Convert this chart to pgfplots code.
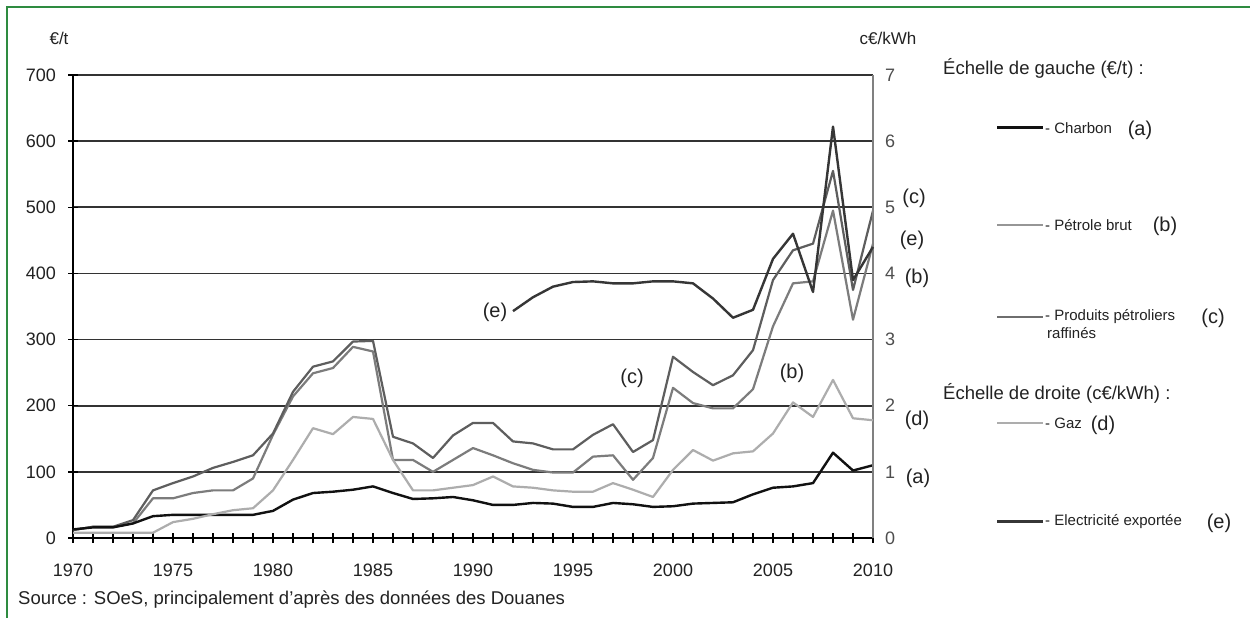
\documentclass[border=0pt]{standalone}
\usepackage{fontspec}
\setmainfont{Liberation Sans}
\usepackage{pgfplots}
\pgfplotsset{compat=1.18}
\definecolor{frame}{HTML}{2E8B40}
\definecolor{cA}{HTML}{111111}
\definecolor{cB}{HTML}{7C7C7C}
\definecolor{cC}{HTML}{5E5E5E}
\definecolor{cD}{HTML}{ADADAD}
\definecolor{cE}{HTML}{363636}
\definecolor{gridc}{HTML}{333333}
\definecolor{txt}{HTML}{222222}
\newcommand{\tfont}{\fontsize{18}{20}\selectfont}
\newcommand{\afont}{\fontsize{20}{24}\selectfont}
\newcommand{\lfont}{\fontsize{15}{16}\selectfont}
\begin{document}
\begin{tikzpicture}[x=1pt,y=1pt]
\useasboundingbox (0,0) rectangle (1250,618);
\fill[white] (0,0) rectangle (1250,618);
\draw[frame, line width=2pt] (7,0) -- (7,611) -- (1250,611);

\begin{axis}[
  at={(73pt,80pt)}, anchor=south west, scale only axis,
  width=800pt, height=463pt,
  xmin=1970, xmax=2010, ymin=0, ymax=700,
  axis x line*=bottom, axis y line*=left,
  axis line style={black, line width=1.5pt, -},
  xtick={1970,1975,...,2010}, minor xtick={1970,...,2010},
  ytick={0,100,...,700},
  tick align=center, major tick length=10pt, minor tick length=10pt,
  tick style={black, line width=1.3pt},
  ymajorgrids, grid style={gridc, line width=1.6pt},
  /pgf/number format/assume math mode=true,
  /pgf/number format/1000 sep={},
  tick label style={font=\tfont, color=txt, inner sep=0pt},
  yticklabel style={anchor=east, xshift=-12pt},
  xticklabel style={anchor=north, yshift=-21pt},
  clip=false,
]
\addplot[cB, line width=2.2pt, line join=round] coordinates {
(1970,12)(1971,17)(1972,17)(1973,22)(1974,60)(1975,60)(1976,68)(1977,72)(1978,72)(1979,90)
(1980,156)(1981,214)(1982,249)(1983,257)(1984,289)(1985,282)(1986,118)(1987,118)(1988,100)(1989,118)
(1990,136)(1991,125)(1992,113)(1993,103)(1994,99)(1995,99)(1996,123)(1997,125)(1998,88)(1999,121)
(2000,227)(2001,204)(2002,196)(2003,196)(2004,225)(2005,320)(2006,385)(2007,388)(2008,495)(2009,330)(2010,445)};
\addplot[cC, line width=2.2pt, line join=round] coordinates {
(1970,12)(1971,17)(1972,17)(1973,27)(1974,72)(1975,83)(1976,93)(1977,106)(1978,115)(1979,125)
(1980,158)(1981,221)(1982,259)(1983,267)(1984,297)(1985,298)(1986,153)(1987,143)(1988,121)(1989,155)
(1990,174)(1991,174)(1992,146)(1993,143)(1994,134)(1995,134)(1996,156)(1997,172)(1998,130)(1999,148)
(2000,274)(2001,251)(2002,231)(2003,246)(2004,284)(2005,390)(2006,435)(2007,445)(2008,555)(2009,375)(2010,495)};
\addplot[cA, line width=2.4pt, line join=round] coordinates {
(1970,13)(1971,16)(1972,16)(1973,22)(1974,33)(1975,35)(1976,35)(1977,35)(1978,35)(1979,35)
(1980,41)(1981,58)(1982,68)(1983,70)(1984,73)(1985,78)(1986,68)(1987,59)(1988,60)(1989,62)
(1990,57)(1991,50)(1992,50)(1993,53)(1994,52)(1995,47)(1996,47)(1997,53)(1998,51)(1999,47)
(2000,48)(2001,52)(2002,53)(2003,54)(2004,66)(2005,76)(2006,78)(2007,83)(2008,129)(2009,102)(2010,110)};
\end{axis}

\begin{axis}[
  at={(73pt,80pt)}, anchor=south west, scale only axis,
  width=800pt, height=463pt,
  xmin=1970, xmax=2010, ymin=0, ymax=7,
  axis x line=none, axis y line*=right,
  axis line style={black!50, line width=1.5pt, -},
  ytick={0,1,...,7}, major tick length=0pt,
  /pgf/number format/assume math mode=true,
  tick label style={font=\tfont, color=txt!80, inner sep=0pt},
  yticklabel style={anchor=west, xshift=12pt},
  clip=false,
]
\addplot[cD, line width=2.2pt, line join=round] coordinates {
(1970,0.08)(1971,0.08)(1972,0.08)(1973,0.08)(1974,0.08)(1975,0.24)(1976,0.29)(1977,0.36)(1978,0.42)(1979,0.45)
(1980,0.72)(1981,1.18)(1982,1.66)(1983,1.57)(1984,1.83)(1985,1.80)(1986,1.18)(1987,0.72)(1988,0.72)(1989,0.76)
(1990,0.80)(1991,0.93)(1992,0.78)(1993,0.76)(1994,0.72)(1995,0.70)(1996,0.70)(1997,0.83)(1998,0.73)(1999,0.62)
(2000,1.03)(2001,1.33)(2002,1.17)(2003,1.28)(2004,1.31)(2005,1.58)(2006,2.05)(2007,1.83)(2008,2.39)(2009,1.81)(2010,1.78)};
\addplot[cE, line width=2.4pt, line join=round] coordinates {
(1992,3.43)(1993,3.64)(1994,3.80)(1995,3.87)(1996,3.88)(1997,3.85)(1998,3.85)(1999,3.88)(2000,3.88)
(2001,3.85)(2002,3.62)(2003,3.33)(2004,3.45)(2005,4.22)(2006,4.60)(2007,3.72)(2008,6.22)(2009,3.90)(2010,4.40)};
\end{axis}

% unit labels
\node[font=\fontsize{17}{18}\selectfont, color=txt] at (59,580) {€/t};
\node[font=\fontsize{17}{18}\selectfont, color=txt] at (888,580) {c€/kWh};
% annotations
\node[font=\afont, color=txt] at (495,306) {(e)};
\node[font=\afont, color=txt] at (632,240) {(c)};
\node[font=\afont, color=txt] at (792,245) {(b)};
\node[font=\afont, color=txt] at (914,420) {(c)};
\node[font=\afont, color=txt] at (912,378) {(e)};
\node[font=\afont, color=txt] at (917,340) {(b)};
\node[font=\afont, color=txt] at (917,198) {(d)};
\node[font=\afont, color=txt] at (918,140) {(a)};
% source
\node[font=\fontsize{18.5}{20}\selectfont, color=txt, anchor=west, inner sep=0pt] at (18,18) {Source : SOeS, principalement d’après des données des Douanes};
% legend
\node[font=\fontsize{18.5}{20}\selectfont, color=txt, anchor=west, inner sep=0pt] at (943,550) {Échelle de gauche (€/t) :};
\draw[cA, line width=3pt] (997,490) -- (1043,490);
\node[font=\lfont, color=txt, anchor=west, inner sep=0pt] at (1045,490) {- Charbon};
\node[font=\afont, color=txt] at (1140,488) {(a)};
\draw[cB!80, line width=2.6pt] (997,393) -- (1043,393);
\node[font=\lfont, color=txt, anchor=west, inner sep=0pt] at (1045,393) {- Pétrole brut};
\node[font=\afont, color=txt] at (1165,392) {(b)};
\draw[cC!90, line width=2.6pt] (997,301) -- (1043,301);
\node[font=\lfont, color=txt, anchor=west, inner sep=0pt] at (1045,301) {- Produits pétroliers};
\node[font=\lfont, color=txt, anchor=west, inner sep=0pt] at (1047,285) {raffinés};
\node[font=\afont, color=txt] at (1213,300) {(c)};
\node[font=\fontsize{18.5}{20}\selectfont, color=txt, anchor=west, inner sep=0pt] at (943,225) {Échelle de droite (c€/kWh) :};
\draw[cD, line width=2.6pt] (997,195) -- (1043,195);
\node[font=\lfont, color=txt, anchor=west, inner sep=0pt] at (1045,195) {- Gaz};
\node[font=\afont, color=txt] at (1103,193) {(d)};
\draw[cE, line width=3pt] (997,96) -- (1043,96);
\node[font=\lfont, color=txt, anchor=west, inner sep=0pt] at (1045,96) {- Electricité exportée};
\node[font=\afont, color=txt] at (1219,95) {(e)};
\end{tikzpicture}
\end{document}
